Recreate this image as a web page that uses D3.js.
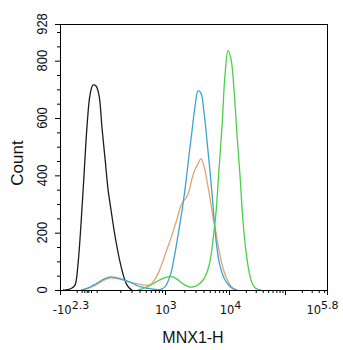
<!DOCTYPE html>
<html>
<head>
<meta charset="utf-8">
<script src="https://cdn.jsdelivr.net/npm/d3@7"></script>
<style>
  body { margin: 0; background: #fff; }
  text { fill: #111; }
</style>
</head>
<body>
<svg id="chart" width="343" height="350"></svg>
<script>
// ---- Histogram data: counts per display channel, 3-channel bins ----
const binWidth = 3;

const controlStart = 3;
const controlCounts = [0, 0, 2, 7, 17, 90, 230, 400, 570, 680, 715, 712, 680, 565, 460, 352,
  280, 210, 150, 98, 56, 24, 8, 0];

const orangeStart = 21;
const orangeCounts = [0, 2, 5, 8, 13, 18, 24, 30, 36, 40, 42, 41, 40, 38, 35, 31, 28, 25, 23, 21,
  19, 17, 17, 18, 28, 43, 65, 92, 123, 152, 180, 215, 247, 285, 308, 320, 345, 388, 420, 440,
  458, 432, 380, 320, 255, 200, 140, 90, 55, 30, 14, 4, 0];

const blueStart = 21;
const blueCounts = [0, 2, 6, 10, 16, 22, 28, 35, 40, 44, 46, 45, 42, 40, 36, 33, 29, 25, 19, 14,
  11, 8, 6, 5, 3, 2, 1, 4, 11, 30, 60, 110, 170, 233, 300, 380, 470, 555, 640, 695, 686, 620,
  520, 415, 295, 175, 100, 60, 35, 20, 9, 3, 0];

const greenStart = 78;
const greenCounts = [0, 3, 7, 11, 16, 22, 28, 34, 39, 43, 46, 47, 44, 38, 30, 22, 15, 11, 10, 13,
  18, 27, 40, 62, 100, 175, 270, 420, 570, 750, 835, 805, 700, 540, 400, 240, 135, 65, 25, 8, 2, 0];

const seriesColors = ["#1c1c1c", "#e3a474", "#3aa5d3", "#4ccf4a"];

// ---- Axes: channel axis with biexponential labels, count axis ----
const channelRange = [0, 267];
const xMajorTicks = [0, 105, 169, 225, 267];
const xNearZeroTicks = [16.7, 21.7, 24.3, 26.7, 28.3, 31, 36.7];
const xDecades = [[41, 105], [105, 169], [169, 225], [225, 281]];
const xTickLabels = [
  { c: 11, base: "-10", exp: "2.3" },
  { c: 106, base: "10", exp: "3" },
  { c: 170.5, base: "10", exp: "4" },
  { c: 262.5, base: "10", exp: "5.8" }
];

const countMax = 928;
const yMajorTicks = [0, 200, 400, 600, 800, 928];
const yMinorTicks = [50, 100, 150, 250, 300, 350, 450, 500, 550, 650, 700, 750, 850, 900];

const xTitle = "MNX1-H";
const yTitle = "Count";

// ---- Drawing ----
const svg = d3.select("#chart");
const x = d3.scaleLinear().domain(channelRange).range([60, 327]);
const y = d3.scaleLinear().domain([0, countMax]).range([290, 24]);

// minor ticks inside each log decade
const xMinorTicks = xNearZeroTicks.slice();
xDecades.forEach(([a, b]) => {
  for (let k = 2; k <= 9; k++) {
    const c = a + Math.log10(k) * (b - a);
    if (c < channelRange[1]) xMinorTicks.push(c);
  }
});

svg.append("clipPath").attr("id", "plot-clip")
  .append("rect").attr("x", 60).attr("y", 24).attr("width", 268).attr("height", 267);

const line = d3.line()
  .x(d => x(d.c))
  .y(d => y(d.n))
  .curve(d3.curveCatmullRom.alpha(0.5));

const series = [
  [controlStart, controlCounts],
  [orangeStart, orangeCounts],
  [blueStart, blueCounts],
  [greenStart, greenCounts]
].map(([start, counts]) => counts.map((n, i) => ({ c: start + i * binWidth, n })));

svg.append("g").attr("clip-path", "url(#plot-clip)")
  .selectAll("path")
  .data(series)
  .join("path")
  .attr("d", line)
  .attr("fill", "none")
  .attr("stroke", (d, i) => seriesColors[i])
  .attr("stroke-width", 1.3)
  .attr("stroke-linejoin", "round");

// frame
svg.append("rect")
  .attr("x", 60.5).attr("y", 24.5)
  .attr("width", 267).attr("height", 266)
  .attr("fill", "none").attr("stroke", "#000").attr("stroke-width", 1);

// x ticks
const xAxisMajor = d3.axisBottom(x).tickValues(xMajorTicks).tickSize(5).tickFormat("");
const xAxisMinor = d3.axisBottom(x).tickValues(xMinorTicks).tickSize(3).tickFormat("");
[xAxisMajor, xAxisMinor].forEach(ax => {
  const g = svg.append("g").attr("transform", "translate(0,290)").call(ax);
  g.select(".domain").remove();
  g.selectAll("line").attr("stroke", "#000");
});

// y ticks
const yAxisMajor = d3.axisLeft(y).tickValues(yMajorTicks).tickSize(5).tickFormat("");
const yAxisMinor = d3.axisLeft(y).tickValues(yMinorTicks).tickSize(3).tickFormat("");
[yAxisMajor, yAxisMinor].forEach(ax => {
  const g = svg.append("g").attr("transform", "translate(60,0)").call(ax);
  g.select(".domain").remove();
  g.selectAll("line").attr("stroke", "#000");
});

// x tick labels with superscript exponents
const xl = svg.append("g")
  .attr("font-family", "'DejaVu Sans', sans-serif")
  .selectAll("text")
  .data(xTickLabels)
  .join("text")
  .attr("x", d => x(d.c))
  .attr("y", 313.5)
  .attr("text-anchor", "middle")
  .attr("font-size", 11.5);
xl.append("tspan").text(d => d.base);
xl.append("tspan").attr("dy", -5).attr("font-size", 11).text(d => d.exp);

// y tick labels, rotated
svg.append("g")
  .attr("font-family", "'Liberation Sans', Arial, sans-serif")
  .selectAll("text")
  .data(yMajorTicks)
  .join("text")
  .attr("transform", d => `translate(42,${y(d)}) scale(1.1,1) rotate(-90)`)
  .attr("text-anchor", "middle")
  .attr("dominant-baseline", "central")
  .attr("font-size", 13)
  .text(d => d);

// axis titles
svg.append("text")
  .attr("x", 193).attr("y", 343)
  .attr("text-anchor", "middle")
  .attr("font-family", "'Liberation Sans', Arial, sans-serif")
  .attr("font-size", 16)
  .text(xTitle);

svg.append("text")
  .attr("transform", "translate(17.5,163) rotate(-90)")
  .attr("text-anchor", "middle")
  .attr("dominant-baseline", "central")
  .attr("font-family", "'Liberation Sans', Arial, sans-serif")
  .attr("font-size", 17)
  .text(yTitle);
</script>
</body>
</html>
